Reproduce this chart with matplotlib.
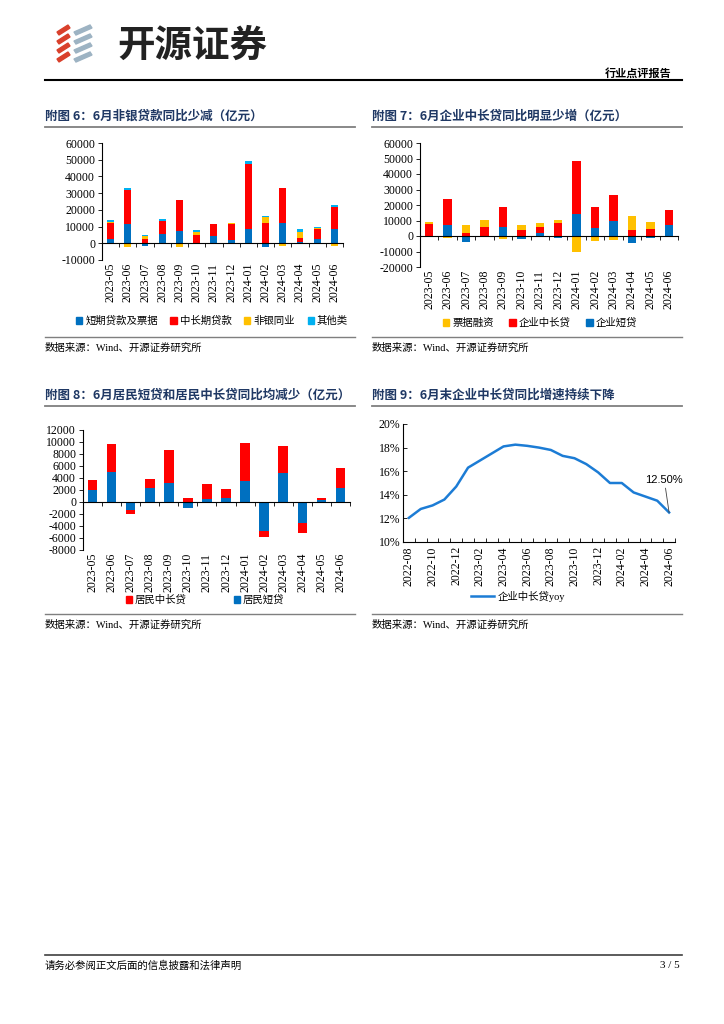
import numpy as np
import matplotlib
matplotlib.use("Agg")
import matplotlib.pyplot as plt
from matplotlib.patches import Polygon, Patch
from matplotlib.lines import Line2D

plt.rcParams['font.family'] = ['Liberation Serif', 'Noto Sans CJK SC']
plt.rcParams['axes.unicode_minus'] = False

W, H = 724, 1024

months = ['2023-05', '2023-06', '2023-07', '2023-08', '2023-09', '2023-10', '2023-11',
          '2023-12', '2024-01', '2024-02', '2024-03', '2024-04', '2024-05', '2024-06']

# 附图6 非银贷款（亿元）
short_bill = [2800, 11400, -1600, 5400, 7600, 200, 4400, 1800, 8600, -2400, 12200, 800, 2800, 8800]
mid_long = [9400, 20600, 2400, 8000, 18200, 4600, 7000, 9800, 39000, 12000, 20800, 2600, 5800, 12800]
nonbank = [400, -2000, 2000, -400, -2000, 2000, 0, 300, 0, 3600, -1800, 3400, 300, -1800]
others = [1400, 1000, 800, 1000, -500, 1200, 0, 0, 1600, 1000, 200, 1800, 1000, 1200]

# 附图7 企业贷款（亿元）
corp_short = [200, 7200, -4000, -600, 5500, -2200, 1700, -1000, 14500, 4900, 9600, -4400, -1500, 6800]
corp_ml = [7500, 16600, 2100, 6000, 13200, 3600, 4300, 8300, 33900, 13800, 16800, 3800, 4700, 10000]
bill = [1200, -1200, 4700, 4400, -2000, 3800, 2700, 2300, -10000, -3000, -2800, 9200, 4200, -800]

# 附图8 居民贷款（亿元）
hh_short = [2000, 5000, -1300, 2300, 3200, -1000, 550, 700, 3500, -4900, 4900, -3550, 300, 2400]
hh_ml = [1700, 4600, -700, 1600, 5500, 700, 2400, 1500, 6300, -1000, 4500, -1600, 400, 3300]

# 附图9 企业中长贷同比（%）
yoy_months = ['2022-08', '2022-09', '2022-10', '2022-11', '2022-12', '2023-01', '2023-02',
              '2023-03', '2023-04', '2023-05', '2023-06', '2023-07', '2023-08', '2023-09',
              '2023-10', '2023-11', '2023-12', '2024-01', '2024-02', '2024-03', '2024-04',
              '2024-05', '2024-06']
yoy = [12.05, 12.8, 13.1, 13.6, 14.7, 16.3, 16.9, 17.5, 18.1, 18.25, 18.15, 18.0, 17.8,
       17.3, 17.1, 16.6, 15.9, 15.0, 15.0, 14.2, 13.85, 13.5, 12.5]

BLUE = '#0070C0'
RED = '#FF0000'
YELLOW = '#FFC000'
LIGHT = '#00B0F0'
NAVY = '#1F3864'
CJK = ['Noto Sans CJK SC', 'DejaVu Sans']


def px(x, y):
    return x / W, 1 - y / H


def add_axes(fig, left, right, top, bottom):
    return fig.add_axes([left / W, 1 - bottom / H, (right - left) / W, (bottom - top) / H])


def stack(ax, series, colors, width):
    n = len(series[0])
    pos = np.zeros(n)
    neg = np.zeros(n)
    x = np.arange(n)
    for vals, c in zip(series, colors):
        vals = np.array(vals, dtype=float)
        bottom = np.where(vals >= 0, pos, neg)
        ax.bar(x, vals, width, bottom=bottom, color=c, linewidth=0)
        pos = pos + np.where(vals >= 0, vals, 0)
        neg = neg + np.where(vals < 0, vals, 0)


def style_axes(ax, labels, zero_axis=True, tick_dir='out'):
    n = len(labels)
    ax.set_xlim(-0.5, n - 0.5)
    for s in ['top', 'right']:
        ax.spines[s].set_visible(False)
    ax.spines['left'].set_linewidth(0.8)
    ax.spines['bottom'].set_linewidth(0.8)
    if zero_axis:
        ax.spines['bottom'].set_position(('data', 0))
    ax.set_xticks(np.arange(-0.5, n, 1))
    ax.tick_params(axis='x', direction=tick_dir, length=3, width=0.6, labelbottom=False)
    ax.tick_params(axis='y', direction=tick_dir, length=3, width=0.6, labelsize=8.5, pad=2)
    sec = ax.secondary_xaxis(0.0)
    sec.spines['bottom'].set_visible(False)
    return sec


def title(x, y, text, right):
    fig.text(*px(x, y), text, family=CJK, weight='bold', fontsize=9, color=NAVY, va='center')
    fig.add_artist(Line2D([x / W, right / W], [1 - (y + 11) / H] * 2, color='#7F7F7F', lw=1.3))


def source(x, y, right):
    fig.add_artist(Line2D([x / W, right / W], [1 - (y - 11) / H] * 2, color='#7F7F7F', lw=1.0))
    fig.text(*px(x, y), '数据来源：Wind、开源证券研究所', fontsize=7.5, va='center')


fig = plt.figure(figsize=(W / 100, H / 100), dpi=100)

# 页眉
for i in range(4):
    y0 = 25 + i * 9
    fig.add_artist(Polygon([px(57, y0 + 7), px(68, y0), px(70, y0 + 3), px(59, y0 + 10)],
                           closed=True, color='#D9402B'))
    fig.add_artist(Polygon([px(74, y0 + 7), px(90, y0), px(92, y0 + 3), px(76, y0 + 10)],
                           closed=True, color='#9DB3C3'))
fig.text(*px(117, 45), '开源证券', family=CJK, weight='bold', fontsize=27, color='#222222', va='center')
fig.text(*px(672, 73), '行业点评报告', family=CJK, weight='bold', fontsize=8, ha='right', va='center')
fig.add_artist(Line2D([45 / W, 682 / W], [1 - 80 / H] * 2, color='black', lw=1.5))

# 附图6
title(45, 116, '附图 6：6月非银贷款同比少减（亿元）', 355)
ax6 = add_axes(fig, 102, 343, 143, 260)
stack(ax6, [short_bill, mid_long, nonbank, others], [BLUE, RED, YELLOW, LIGHT], 0.4)
ax6.set_ylim(-10000, 60000)
ax6.set_yticks(np.arange(-10000, 60001, 10000))
sec = style_axes(ax6, months)
sec.set_xticks(range(len(months)), months, rotation=90, fontsize=8.5)
sec.tick_params(length=0, pad=2)
h6 = [Patch(color=c) for c in [BLUE, RED, YELLOW, LIGHT]]
ax6.legend(h6, ['短期贷款及票据', '中长期贷款', '非银同业', '其他类'], loc='center',
           bbox_to_anchor=px(212, 321), bbox_transform=fig.transFigure, ncol=4, frameon=False,
           handlelength=0.6, handleheight=0.6, handletextpad=0.3, columnspacing=1.2,
           prop={'family': CJK, 'size': 7.5})
source(45, 348, 355)

# 附图7
title(372, 116, '附图 7：6月企业中长贷同比明显少增（亿元）', 682)
ax7 = add_axes(fig, 420, 678, 143, 267)
stack(ax7, [corp_short, corp_ml, bill], [BLUE, RED, YELLOW], 0.45)
ax7.set_ylim(-20000, 60000)
ax7.set_yticks(np.arange(-20000, 60001, 10000))
sec = style_axes(ax7, months)
sec.set_xticks(range(len(months)), months, rotation=90, fontsize=8.5)
sec.tick_params(length=0, pad=2)
h7 = [Patch(color=c) for c in [YELLOW, RED, BLUE]]
ax7.legend(h7, ['票据融资', '企业中长贷', '企业短贷'], loc='center',
           bbox_to_anchor=px(540, 323), bbox_transform=fig.transFigure, ncol=3, frameon=False,
           handlelength=0.6, handleheight=0.6, handletextpad=0.3, columnspacing=1.5,
           prop={'family': CJK, 'size': 7.5})
source(372, 348, 682)

# 附图8
title(45, 395, '附图 8：6月居民短贷和居民中长贷同比均减少（亿元）', 355)
ax8 = add_axes(fig, 83, 350, 430, 550)
stack(ax8, [hh_short, hh_ml], [BLUE, RED], 0.5)
ax8.set_ylim(-8000, 12000)
ax8.set_yticks(np.arange(-8000, 12001, 2000))
sec = style_axes(ax8, months)
sec.set_xticks(range(len(months)), months, rotation=90, fontsize=8.5)
sec.tick_params(length=0, pad=2)
h8 = [Patch(color=c) for c in [RED, BLUE]]
ax8.legend(h8, ['居民中长贷', '居民短贷'], loc='center',
           bbox_to_anchor=px(205, 600), bbox_transform=fig.transFigure, ncol=2, frameon=False,
           handlelength=0.6, handleheight=0.6, handletextpad=0.3, columnspacing=4.5,
           prop={'family': CJK, 'size': 7.5})
source(45, 625, 355)

# 附图9
title(372, 395, '附图 9：6月末企业中长贷同比增速持续下降', 682)
ax9 = add_axes(fig, 403, 675, 424, 542)
x9 = np.arange(len(yoy))
ax9.plot(x9, yoy, color='#1C7CD5', lw=1.8)
ax9.set_ylim(10, 20)
ax9.set_yticks(np.arange(10, 20.1, 2))
ax9.set_yticklabels([f'{v:.0f}%' for v in np.arange(10, 20.1, 2)])
sec = style_axes(ax9, yoy_months, zero_axis=False, tick_dir='in')
sec.set_xticks(x9[::2], yoy_months[::2], rotation=90, fontsize=8.5)
sec.tick_params(length=0, pad=3)
ax9.annotate(f'{yoy[-1]:.2f}%', xy=(x9[-1], yoy[-1]), xytext=(x9[-1] - 0.4, 14.8),
             ha='center', va='bottom', fontsize=8, family='Liberation Sans',
             arrowprops=dict(arrowstyle='-', color='#404040', lw=0.6, shrinkA=0, shrinkB=0))
ax9.legend([Line2D([], [], color='#1C7CD5', lw=1.8)], ['企业中长贷yoy'], loc='center',
           bbox_to_anchor=px(518, 596), bbox_transform=fig.transFigure, frameon=False,
           handlelength=2.2, handletextpad=0.4,
           prop={'family': ['Liberation Serif', 'Noto Sans CJK SC'], 'size': 7.5})
source(372, 625, 682)

# 页脚
fig.add_artist(Line2D([45 / W, 682 / W], [1 - 955 / H] * 2, color='#404040', lw=1.2))
fig.text(*px(45, 966), '请务必参阅正文后面的信息披露和法律声明', family=CJK, fontsize=7.5, va='center')
fig.text(*px(680, 966), '3 / 5', fontsize=8, ha='right', va='center')

fig.savefig('out.png', dpi=100)
